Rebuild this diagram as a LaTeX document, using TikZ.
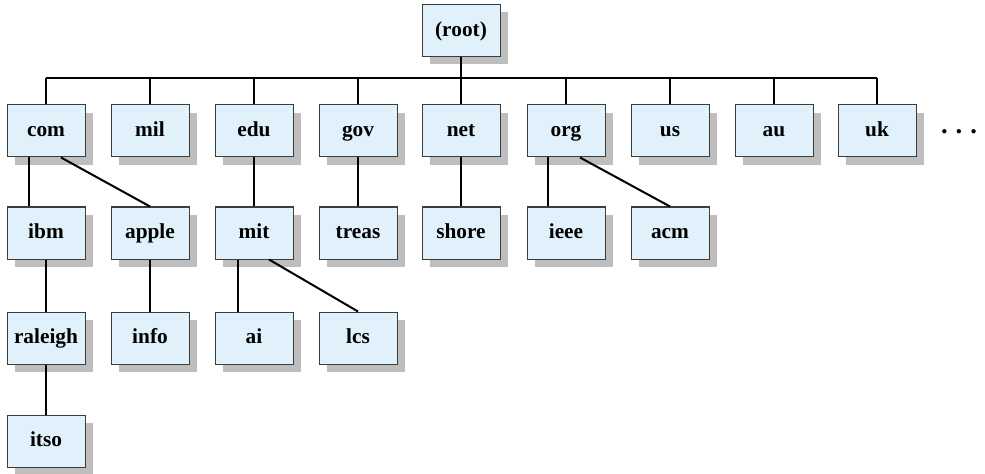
\documentclass[tikz,border=0pt]{standalone}
\usepackage{fontspec}
\setmainfont{Liberation Serif}
\usepackage{tikz}
\usetikzlibrary{shadows}

\begin{document}
\begin{tikzpicture}[x=0.75pt,y=0.75pt,yscale=-1,xscale=1,
  dnsbox/.style={draw={rgb, 255:red, 60; green, 60; blue, 60 },line width=0.75pt,fill={rgb, 255:red, 224; green, 241; blue, 251 },
    minimum width=58.5pt,minimum height=39pt,inner sep=0pt,text height=11pt,text depth=2.5pt,
    font=\fontsize{16}{18}\selectfont\bfseries,
    drop shadow={shadow xshift=6pt,shadow yshift=-6pt,opacity=1,fill={rgb, 255:red, 190; green, 190; blue, 190 }}},
  link/.style={line width=1.5pt}]
\useasboundingbox (0,0) rectangle (985,474);

% Root
\node [dnsbox] (root) at (461,30.5) {(root)};

% Top level domains
\node [dnsbox] (com) at (46,131) {com};
\node [dnsbox] (mil) at (150,131) {mil};
\node [dnsbox] (edu) at (254,131) {edu};
\node [dnsbox] (gov) at (358,131) {gov};
\node [dnsbox] (net) at (461,131) {net};
\node [dnsbox] (org) at (566,131) {org};
\node [dnsbox] (us) at (670,131) {us};
\node [dnsbox] (au) at (774,131) {au};
\node [dnsbox] (uk) at (877,131) {uk};
\node [anchor=base,font=\fontsize{20}{22}\selectfont\bfseries] (more) at (959,134) {.\hspace{6pt}.\hspace{6pt}.};

% Second level
\node [dnsbox] (ibm) at (46,233) {ibm};
\node [dnsbox] (apple) at (150,233) {apple};
\node [dnsbox] (mit) at (254,233) {mit};
\node [dnsbox] (treas) at (358,233) {treas};
\node [dnsbox] (shore) at (461,233) {shore};
\node [dnsbox] (ieee) at (566,233) {ieee};
\node [dnsbox] (acm) at (670,233) {acm};

% Third level
\node [dnsbox] (raleigh) at (46,338) {raleigh};
\node [dnsbox] (info) at (150,338) {info};
\node [dnsbox] (ai) at (254,338) {ai};
\node [dnsbox] (lcs) at (358,338) {lcs};

% Fourth level
\node [dnsbox] (itso) at (46,441) {itso};

% Bus
\coordinate (bus) at (461,78);
\draw [link] (com.north |- bus) -- (uk.north |- bus);
\draw [link] (root.south) -- (bus);
\foreach \d in {com,mil,edu,gov,net,org,us,au,uk}
  \draw [link] (\d.north) -- (\d.north |- bus);

% Subdomains
\draw [link] ([xshift=-12.75pt]com.south) -- ([xshift=-12.75pt]com.south |- ibm.north);
\draw [link] ([xshift=11.25pt]com.south) -- (apple.north);
\draw [link] (edu) -- (mit);
\draw [link] (gov) -- (treas);
\draw [link] (net) -- (shore);
\draw [link] ([xshift=-13.5pt]org.south) -- ([xshift=-13.5pt]org.south |- ieee.north);
\draw [link] ([xshift=10.5pt]org.south) -- (acm.north);
\draw [link] (ibm) -- (raleigh);
\draw [link] (apple) -- (info);
\draw [link] ([xshift=-12pt]mit.south) -- ([xshift=-12pt]mit.south |- ai.north);
\draw [link] ([xshift=11.25pt]mit.south) -- (lcs.north);
\draw [link] (raleigh) -- (itso);

\end{tikzpicture}
\end{document}
